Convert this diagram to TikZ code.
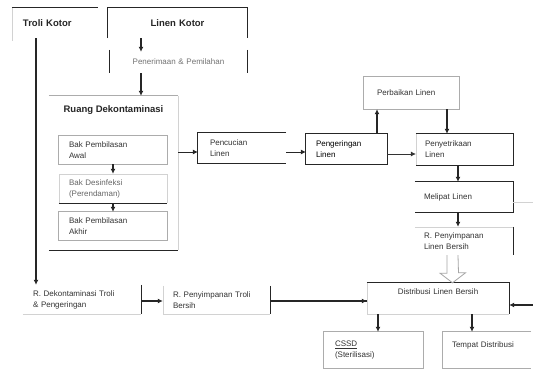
\documentclass[tikz,border=0pt]{standalone}
\usepackage{fontspec}
\setmainfont{Liberation Sans}
\usetikzlibrary{arrows.meta}
\begin{document}
\begin{tikzpicture}[x=1pt,y=-1pt,
  bx/.style={rectangle, inner ysep=0pt, align=left, text=black!80,
    font=\fontsize{8}{11}\selectfont},
  ttl/.style={font=\bfseries\fontsize{9.5}{12}\selectfont, text=black!85},
  dk/.style={line width=1.3pt, black!85},
  md/.style={line width=0.8pt, gray!65},
  ft/.style={line width=0.6pt, gray!35},
  arr/.style={line width=1.1pt, black!85, -{Latex[length=5pt,width=5pt]}},
  thinarr/.style={line width=0.6pt, gray!60, -{Latex[length=5pt,width=5pt]}, black!80},
  hollow/.style={line width=0.8pt, gray!70, fill=white, line join=miter}]
\fill[white] (0,0) rectangle (533,372);
\useasboundingbox (0,0) rectangle (533,372);

% ---------- nodes ----------
\node[bx, ttl, minimum width=86, minimum height=30, text width=64, inner xsep=11] (tk) at (55,23) {Troli Kotor};
\node[bx, ttl, align=center, minimum width=139, minimum height=30, text width=131, inner xsep=4] (lk) at (177.5,23) {Linen Kotor};
\node[bx, align=center, text=black!55, minimum width=137, minimum height=23, text width=129, inner xsep=4] (pp) at (178.5,61.5) {Penerimaan \& Pemilahan};

\node[bx, minimum width=129, minimum height=154] (rd) at (113.5,173) {};
\node[ttl, inner sep=0pt] (rdt) at (113.5,110) {Ruang Dekontaminasi};
\node[bx, minimum width=108, minimum height=28, text width=88, inner xsep=10] (b1) at (113,150) {Bak Pembilasan\\Awal};
\node[bx, text=black!60, minimum width=108, minimum height=29, text width=88, inner xsep=10] (b2) at (113,188.5) {Bak Desinfeksi\\(Perendaman)};
\node[bx, minimum width=108, minimum height=28, text width=88, inner xsep=10] (b3) at (113,226) {Bak Pembilasan\\Akhir};

\node[bx, minimum width=88, minimum height=30, text width=64, inner xsep=12] (pc) at (242,148) {Pencucian\\Linen};
\node[bx, text=black, minimum width=81, minimum height=30, text width=61, inner xsep=10] (pg) at (346.5,149) {Pengeringan\\Linen};
\node[bx, minimum width=95, minimum height=32, text width=69, inner xsep=13] (pb) at (411.5,93) {Perbaikan Linen};
\node[bx, minimum width=97, minimum height=31, text width=79, inner xsep=9] (ps) at (464.5,149.5) {Penyetrikaan\\Linen};
\node[bx, minimum width=98, minimum height=30, text width=80, inner xsep=9] (ml) at (464,197) {Melipat Linen};
\node[bx, minimum width=98, minimum height=28, text width=80, inner xsep=9] (rl) at (464,241) {R. Penyimpanan\\Linen Bersih};

\node[bx, align=center, minimum width=142, minimum height=31, text width=134, inner xsep=4] (dl) at (438,298.5) {Distribusi Linen Bersih\\[2pt]\mbox{}};
\node[bx, minimum width=99, minimum height=36, text width=77, inner xsep=11] (cs) at (373.5,350) {\underline{CSSD}\\(Sterilisasi)};
\node[bx, minimum width=88, minimum height=36, text width=70, inner xsep=9] (tp) at (487,350) {Tempat Distribusi\\\mbox{}};

\node[bx, minimum width=118, minimum height=29, text width=98, inner xsep=10] (rt) at (82,299.5) {R. Dekontaminasi Troli\\\& Pengeringan};
\node[bx, minimum width=107, minimum height=28, text width=87, inner xsep=10] (rp) at (216.5,300) {R. Penyimpanan Troli\\Bersih};

% ---------- box sides ----------
\draw[dk] (tk.north west) -- (tk.north east);
\draw[ft] (tk.north west) -- ([yshift=-3]tk.south west);
\draw[dk] (lk.south west) -- (lk.north west) -- (lk.north east) -- (lk.south east);
\draw[dk] (pp.north west) -- (pp.south west);
\draw[dk] (pp.north east) -- (pp.south east);

\draw[md] (rd.north west) -- (rd.north east);
\draw[ft] (rd.north east) -- (rd.south east);
\draw[dk] (rd.south west) -- (rd.south east);
\draw[md] (b1.north west) rectangle (b1.south east);
\draw[ft] (b2.south west) -- (b2.north west) -- (b2.north east) -- (b2.south east);
\draw[dk] (b2.south west) -- (b2.south east);
\draw[md] (b3.north west) rectangle (b3.south east);

\draw[dk] (pc.north east) -- (pc.north west) -- (pc.south west) -- (pc.south east);
\draw[dk] (pg.north west) rectangle (pg.south east);
\draw[md] (pb.north west) rectangle (pb.south east);
\draw[ft] (ps.north west) -- (ps.south west);
\draw[dk] (ps.north west) -- (ps.north east) -- (ps.south east) -- (ps.south west);
\draw[dk] (ml.north west) -- (ml.north east) -- (ml.south east) -- (ml.south west);
\draw[ft] (rl.north west) -- (rl.north east);
\draw[dk] (rl.north east) -- (rl.south east);

\draw[ft] (dl.north west) -- (dl.south west) -- (dl.south east);
\draw[dk] (dl.north west) -- (dl.north east) -- (dl.south east);
\draw[md] (cs.north west) rectangle (cs.south east);
\draw[md] (tp.north east) -- (tp.north west) -- (tp.south west) -- (tp.south east);

\draw[ft] (rt.south west) -- (rt.south east);
\draw[dk] (rt.north east) -- (rt.south east);
\draw[ft] (rp.north west) -- (rp.south west) -- (rp.south east);
\draw[dk] (rp.north east) -- (rp.south east);

% ---------- connector guides ----------
\coordinate (xa) at (36,0);
\coordinate (xb) at (141,0);
\coordinate (xd) at (377,0);
\coordinate (xe) at (447,0);
\coordinate (xf) at (458,0);
\coordinate (xg) at (378,0);
\coordinate (xi) at (472,0);
\coordinate (yc) at (0,152);
\coordinate (yf) at (0,301);
\coordinate (mlout) at (533,202);
\coordinate (dlin) at (533,305);

% ---------- connectors ----------
\draw[arr] (tk.south -| xa) -- (rt.north -| xa);
\draw[arr] (lk.south -| xb) -- ([yshift=-2]pp.north -| xb);
\draw[arr] (pp.south -| xb) -- (rd.north -| xb);
\draw[arr] (b1.south) -- (b2.north);
\draw[arr] (b2.south) -- (b3.north);
\draw[arr, line width=0.7pt] (rd.east |- yc) -- (pc.west |- yc);
\draw[arr, line width=0.7pt] (pc.east |- yc) -- (pg.west |- yc);
\draw[arr] (pg.north -| xd) -- (pb.south -| xd);
\draw[arr] (pb.south -| xe) -- (ps.north -| xe);
\draw[thinarr] ([yshift=-2]pg.east |- yc) -- ([yshift=-2]ps.west |- yc);
\draw[arr] (ps.south -| xf) -- (ml.north -| xf);
\draw[arr] (ml.south -| xf) -- (rl.north -| xf);
\draw[ft] (ml.east |- mlout) -- (mlout);
\draw[arr] (dlin) -- (dl.east |- dlin);
\draw[arr] (rt.east |- yf) -- (rp.west |- yf);
\draw[dk] (rp.east |- yf) -- (dl.west |- yf);
\draw[arr] ([xshift=-12]dl.west |- yf) -- (dl.west |- yf);
\draw[arr] (dl.south -| xg) -- (cs.north -| xg);
\draw[arr] (dl.south -| xi) -- (tp.north -| xi);

% hollow block arrow from clean-linen storage down to distribution
\draw[hollow] (rl.south -| xe) -- ++(0,18) -- ++(-7,0) -- ([xshift=-5.5]dl.north -| xf)
  -- ++(13,-10) -- ++(-7,0) -- (rl.south -| xf);
\end{tikzpicture}
\end{document}
